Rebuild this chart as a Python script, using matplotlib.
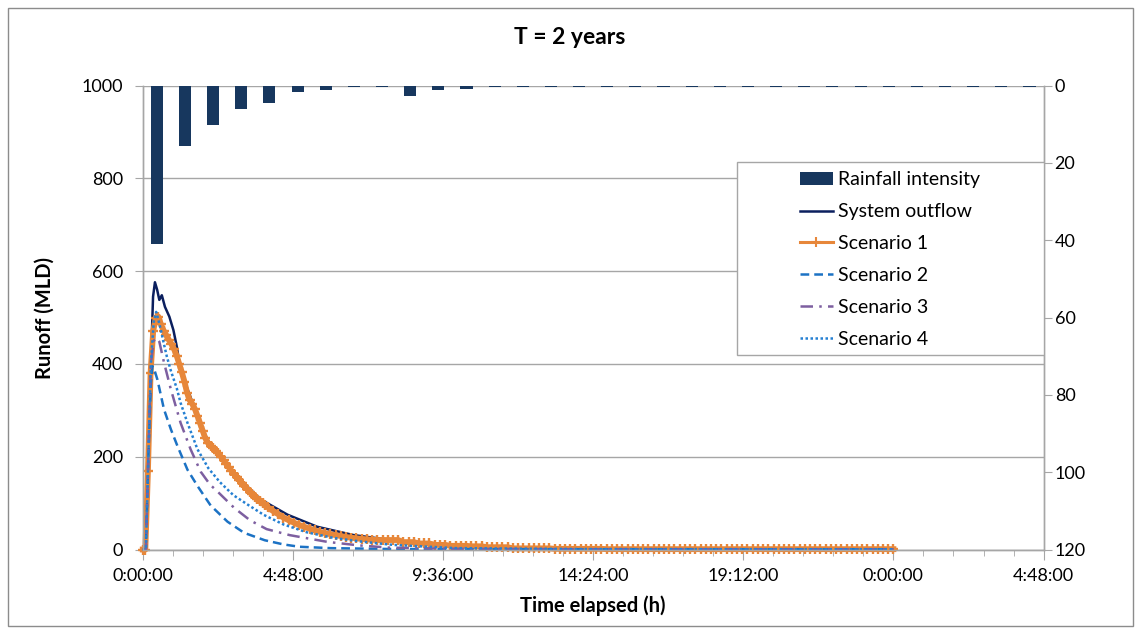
import numpy as np
import matplotlib
matplotlib.use("Agg")
import matplotlib.pyplot as plt
from matplotlib.ticker import MultipleLocator, FuncFormatter
from matplotlib.patches import Rectangle
from matplotlib.lines import Line2D

plt.rcParams['font.family'] = ['Lato', 'DejaVu Sans']

# ---------------- data ----------------
x_max_h = 28.8          # axis span in hours (0:00:00 .. 4:48:00 next day)

# rainfall intensity (secondary axis, reversed), 32 equal intervals over the axis span
rain_intensity = [41, 15.6, 10.2, 6.1, 4.6, 1.7, 1.2, 0.5, 0.5, 2.8,
                  1.2, 0.9, 0.5, 0.35, 0.35, 0.35, 0.35, 0.35, 0.35, 0.35,
                  0.35, 0.35, 0.35, 0.35, 0.35, 0.35, 0.35, 0.35, 0.35, 0.35,
                  0.35, 0.35]

# System outflow
t_sys = [0, 0.1, 0.18, 0.26, 0.33, 0.39, 0.46, 0.53, 0.61, 0.71, 0.85, 0.98,
         1.09, 1.19, 1.35, 1.53, 1.85, 2.17, 2.6, 3.13, 3.77, 4.63, 5.58, 6.75,
         8.0, 9.5, 11, 13, 16, 20, 24]
v_sys = [0, 0, 200, 400, 545, 576, 560, 538, 548, 523, 502, 473,
         437, 394, 360, 328, 266, 225, 190, 150, 108, 75, 49, 31,
         20, 11, 6, 3, 1.5, 1, 1]

# Scenario 1: 5-minute samples for the first 4 h, then 10-minute samples to 24 h
s1_fine_step_h = 1 / 12
v_s1_fine = [0, 0, 170, 380, 470, 500, 502, 485, 472, 462,
             452, 443, 432, 418, 400, 382, 362, 338, 322, 314,
             303, 288, 272, 256, 240, 230, 223, 218, 213, 207,
             200, 192, 185, 177, 170, 163, 157, 150, 144, 137,
             131, 125, 119, 114, 109, 104, 100, 95]
s1_coarse_start_h = 4.0
s1_coarse_step_h = 1 / 6
v_s1_coarse = [91, 83, 76, 69, 63, 58, 53, 49, 45, 41,
               38, 35, 33, 31, 29, 27, 25.5, 24, 23, 22,
               21, 20.5, 20.5, 20.5, 20.5, 20.5, 16, 16, 16, 13,
               13, 13, 10, 10, 10, 8, 8, 8, 8, 7,
               7, 7, 5, 5, 5, 5, 5, 2.5, 2.5, 2.5,
               2.5, 2.5, 2.5, 2.5, 2.5, 1.5, 1.5, 1.5, 1.5, 1.5,
               1.5, 1.5, 1.5, 1.5, 1.5, 0.8, 0.8, 0.8, 0.8, 0.8,
               0.8, 0.8, 0.8, 0.8, 0.8, 0.8, 0.8, 0.8, 0.8, 0.8,
               0.8, 0.8, 0.8, 0.8, 0.8, 0.8, 0.8, 0.8, 0.8, 0.8,
               0.8, 0.8, 0.8, 0.8, 0.8, 0.8, 0.8, 0.8, 0.8, 0.8,
               0.8, 0.8, 0.8, 0.8, 0.8, 0.8, 0.8, 0.8, 0.8, 0.8,
               0.8, 0.8, 0.8, 0.8, 0.8, 0.8, 0.8, 0.8, 0.8, 0.8,
               0.8]

# Scenario 2
t_s2 = [0, 0.1, 0.18, 0.26, 0.31, 0.36, 0.47, 0.68, 0.9, 1.11, 1.43, 1.75,
        2.17, 2.71, 3.24, 3.9, 4.5, 5.0, 6.0, 8.0, 12, 24]
v_s2 = [0, 0, 200, 360, 395, 390, 366, 302, 259, 223, 172, 137,
        95, 60, 36, 20, 11, 6, 3, 1, 0.5, 0.5]

# Scenario 3
t_s3 = [0, 0.1, 0.18, 0.26, 0.35, 0.45, 0.53, 0.68, 0.9, 1.21, 1.53, 1.85,
        2.15, 2.39, 2.92, 3.43, 3.96, 4.7, 5.9, 6.9, 7.9, 10, 14, 24]
v_s3 = [0, 0, 200, 400, 450, 456, 448, 403, 345, 273, 216, 168,
        140, 125, 90, 63, 44, 31, 16.5, 9, 4, 1.5, 0.5, 0.5]

# Scenario 4
t_s4 = [0, 0.1, 0.18, 0.26, 0.35, 0.43, 0.5, 0.58, 0.66, 0.77, 0.9, 1.09,
        1.21, 1.43, 1.75, 2.1, 2.47, 2.9, 3.35, 3.86, 4.5, 5.25, 6.1, 7.0,
        8.0, 10, 14, 24]
v_s4 = [0, 0, 200, 400, 490, 512, 495, 473, 448, 416, 385, 347,
        316, 273, 216, 175, 145, 117, 97, 75, 54, 37, 25, 17,
        10, 3, 1, 0.5]

# ---------------- style ----------------
c_bar = '#17375E'
c_sys = '#0B1F5E'
c_s1 = '#E7873A'
c_s2 = '#1C72C4'
c_s3 = '#7D5FA0'
c_s4 = '#2580D2'
c_grid = '#A6A6A6'

fig = plt.figure(figsize=(11.41, 6.32), dpi=100)
ax = fig.add_axes([0.1251, 0.1305, 0.7895, 0.7342])
ax2 = ax.twinx()

# lines on primary axis
ax.plot(t_sys, v_sys, color=c_sys, lw=1.8, clip_on=False, zorder=3)
t_s1 = np.concatenate([np.arange(len(v_s1_fine)) * s1_fine_step_h,
                       s1_coarse_start_h + np.arange(len(v_s1_coarse)) * s1_coarse_step_h])
v_s1 = v_s1_fine + v_s1_coarse
ax.plot(t_s1, v_s1, color=c_s1, lw=4.2, marker='+', ms=7.5, mew=1.7,
        clip_on=False, zorder=4)
ax.plot(t_s2, v_s2, color=c_s2, lw=1.8, ls=(0, (3.5, 2)), clip_on=False, zorder=5)
ax.plot(t_s3, v_s3, color=c_s3, lw=1.8, ls=(0, (5, 2.5, 1, 2.5)), clip_on=False, zorder=5)
ax.plot(t_s4, v_s4, color=c_s4, lw=1.8, ls=(0, (1, 1)), clip_on=False, zorder=5)

ax.set_xlim(0, x_max_h)
ax.set_ylim(0, 1000)
ax.yaxis.set_major_locator(MultipleLocator(200))
ax.xaxis.set_major_locator(MultipleLocator(4.8))
ax.xaxis.set_minor_locator(MultipleLocator(0.96))


def fmt_time(x, pos):
    s = int(round(x * 3600)) % 86400
    h = s // 3600
    m = (s % 3600) // 60
    sec = s % 60
    return f"{h}:{m:02d}:{sec:02d}"


ax.xaxis.set_major_formatter(FuncFormatter(fmt_time))
ax.grid(axis='y', color=c_grid, lw=1.0)
ax.set_axisbelow(True)

# bars on secondary axis
n_bars = len(rain_intensity)
bar_step = x_max_h / n_bars
bar_x = (np.arange(n_bars) + 0.5) * bar_step
bars = ax2.bar(bar_x, rain_intensity, width=bar_step * 0.43, color=c_bar, zorder=2)
ax2.set_ylim(120, 0)
ax2.yaxis.set_major_locator(MultipleLocator(20))

for a in (ax, ax2):
    for side in ('left', 'right', 'bottom'):
        a.spines[side].set_color(c_grid)
        a.spines[side].set_linewidth(1.0)
    a.spines['top'].set_visible(False)

ax.tick_params(axis='y', which='major', direction='out', length=6, color=c_grid,
               labelsize=13, pad=8)
ax.tick_params(axis='x', which='major', direction='out', length=7, color=c_grid,
               labelsize=13, pad=6)
ax.tick_params(axis='x', which='minor', direction='out', length=4, color=c_grid)
ax2.tick_params(axis='y', which='major', direction='out', length=6, color=c_grid,
                labelsize=13, pad=2)

# legend with its own box
box = Rectangle((0.66, 0.419), 0.34, 0.416, transform=ax2.transAxes,
                facecolor='white', edgecolor=c_grid, lw=1.0, zorder=8)
ax2.add_patch(box)
handles = [bars,
           Line2D([], [], color=c_sys, lw=1.8),
           Line2D([], [], color=c_s1, lw=2.2, marker='+', ms=7, mew=1.5),
           Line2D([], [], color=c_s2, lw=1.8, ls=(0, (3.5, 2))),
           Line2D([], [], color=c_s3, lw=1.8, ls=(0, (5, 2.5, 1, 2.5))),
           Line2D([], [], color=c_s4, lw=1.8, ls=(0, (1, 1)))]
labels = ['Rainfall intensity', 'System outflow', 'Scenario 1', 'Scenario 2',
          'Scenario 3', 'Scenario 4']
leg = ax2.legend(handles, labels, loc='upper left', bbox_to_anchor=(0.7295, 0.815),
                 frameon=False, borderpad=0, borderaxespad=0, fontsize=14,
                 handlelength=1.7, handletextpad=0.26, labelspacing=0.77,
                 numpoints=1)
leg.set_zorder(9)

# texts
fig.text(570 / 1141, 1 - 37 / 632, 'T = 2 years', ha='center', va='center',
         fontsize=16.5, fontweight='bold')
fig.text(45 / 1141, 1 - 318 / 632, 'Runoff (MLD)', ha='center', va='center',
         rotation=90, fontsize=14.5, fontweight='bold')
fig.text(593 / 1141, 1 - 606 / 632, 'Time elapsed (h)', ha='center', va='center',
         fontsize=14.5, fontweight='bold')

# chart border
fig.patches.append(Rectangle((8 / 1141, 6 / 632), 1 - 16 / 1141, 1 - 14 / 632,
                             transform=fig.transFigure, fill=False,
                             edgecolor='#8C8C8C', lw=1.0))

fig.savefig('out.png', dpi=100)
